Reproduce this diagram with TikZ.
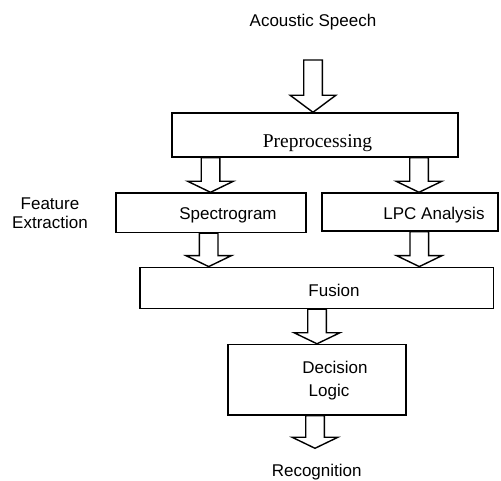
\documentclass[tikz,border=0pt]{standalone}
\usepackage{fontspec}
\setmainfont{Liberation Serif}
\newfontfamily\arialfont{Liberation Sans}
\usetikzlibrary{calc}
\tikzset{
  box/.style={draw, line width=1.4pt, inner sep=0pt, fill=white},
  lbl/.style={font=\arialfont\fontsize{17}{19.3}\selectfont, inner sep=0pt, anchor=base},
  blk/.style={draw, line width=1.4pt, fill=white, line join=miter}
}
\newcommand\blkarrow[4]{%
  \draw[blk] let \p1=(#2), \p2=(#3) in
    (#1-9.3,\y1) -- (#1-9.3,\y2+#4) -- (#1-22.8,\y2+#4) -- (#1,\y2)
    -- (#1+22.8,\y2+#4) -- (#1+9.3,\y2+#4) -- (#1+9.3,\y1) -- cycle;
}
\begin{document}
\begin{tikzpicture}[x=1pt,y=1pt]
\useasboundingbox (0,0) rectangle (501,481);
% boxes
\node[box, minimum width=286pt, minimum height=44pt] (pre) at (315,346) {};
\node[box, minimum width=190pt, minimum height=39.5pt] (spec) at (211,268.25) {};
\node[box, minimum width=176pt, minimum height=38pt] (lpc) at (410,269) {};
\node[box, minimum width=353.5pt, minimum height=41.2pt] (fus) at (316.75,193.1) {};
\node[box, minimum width=178pt, minimum height=70.5pt] (dec) at (317,101.25) {};
% texts
\node[lbl] (src) at (313,454.3) {Acoustic Speech};
\node[inner sep=0pt, anchor=base, font=\fontsize{19.5}{22}\selectfont] (pret) at (317.5,333.3) {Preprocessing};
\node[lbl, align=center, anchor=center] (feat) at (50,267.6) {Feature\\Extraction};
\node[lbl] (spect) at (228,261) {Spectrogram};
\node[lbl] (lpct) at (434,261) {LPC Analysis};
\node[lbl] (fust) at (334,184.3) {Fusion};
\node[lbl] (dect) at (335,107) {Decision};
\node[lbl] (logt) at (329,84.3) {Logic};
\node[lbl] (rec) at (316.7,4.2) {Recognition};
% free ends
\coordinate (in) at (313,421);
\coordinate (out) at (315,32.7);
% block arrows
\blkarrow{313}{in}{pre.north}{17}
\blkarrow{210.5}{pre.south}{spec.north}{11}
\blkarrow{419}{pre.south}{lpc.north}{11}
\blkarrow{208.7}{spec.south}{fus.north}{11}
\blkarrow{419.3}{lpc.south}{fus.north}{11}
\blkarrow{317}{fus.south}{dec.north}{11}
\blkarrow{315}{dec.south}{out}{11}
\end{tikzpicture}
\end{document}
